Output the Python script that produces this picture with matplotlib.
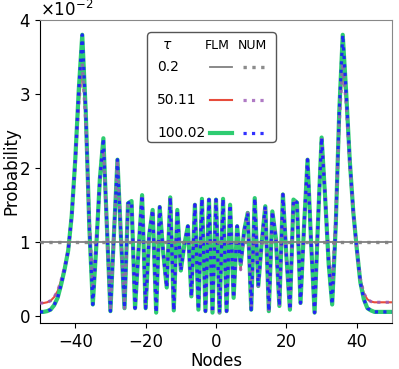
import numpy as np
import matplotlib
matplotlib.use("Agg")
import matplotlib.pyplot as plt
from matplotlib.lines import Line2D
from matplotlib.text import Text
from matplotlib.offsetbox import DrawingArea, AnchoredOffsetbox

# nodes of the walk
nodes = np.arange(-50, 51)

# tau = 0.2 : still uniform
p_02 = np.full(len(nodes), 0.0099)

# tau = 100.02 (values x 1e-2)
p_100 = np.array([
    0.05, 0.05, 0.06, 0.08, 0.14, 0.24, 0.42, 0.63, 0.88, 1.35,   # -50..-41
    2.10, 3.05, 3.80, 2.75, 1.20, 0.15, 0.95, 1.85, 2.40, 1.20,   # -40..-31
    0.06, 1.10, 2.11, 1.05, 0.10, 1.52, 1.55, 0.10, 0.90, 1.63,   # -30..-21
    0.10, 1.09, 1.43, 0.04, 1.47, 0.85, 0.38, 1.60, 0.07, 1.43,   # -20..-11
    0.61, 0.96, 1.21, 0.26, 1.50, 0.08, 1.58, 0.06, 1.57, 0.04,   # -10..-1
    1.57,                                                         # 0
    0.04, 1.58, 0.06, 1.50, 0.24, 1.21, 0.69, 1.15, 1.39, 0.08,   # 1..10
    1.59, 0.40, 1.00, 1.48, 0.06, 1.41, 1.05, 0.13, 1.64, 0.80,   # 11..20
    0.08, 1.57, 1.53, 0.17, 1.20, 2.11, 1.00, 0.04, 1.30, 2.41,   # 21..30
    1.60, 0.70, 0.15, 1.20, 2.75, 3.80, 3.00, 2.10, 1.40, 0.90,   # 31..40
    0.45, 0.22, 0.10, 0.07, 0.05, 0.05, 0.05, 0.05, 0.05, 0.05,   # 41..50
]) * 1e-2

# tau = 50.11
p_50 = np.array([
    0.17, 0.17, 0.18, 0.20, 0.25, 0.33, 0.48, 0.66, 0.88, 1.35,   # -50..-41
    2.05, 2.85, 3.42, 2.60, 1.30, 0.40, 1.00, 1.80, 2.25, 1.20,   # -40..-31
    0.06, 1.10, 2.11, 1.05, 0.10, 1.50, 1.52, 0.10, 0.90, 1.63,   # -30..-21
    0.10, 1.09, 1.43, 0.04, 1.47, 0.85, 0.38, 1.60, 0.07, 1.43,   # -20..-11
    0.61, 0.96, 1.21, 0.26, 1.50, 0.08, 1.58, 0.06, 1.57, 0.04,   # -10..-1
    1.57,                                                         # 0
    0.04, 1.58, 0.06, 1.50, 0.24, 1.21, 0.62, 1.15, 1.39, 0.08,   # 1..10
    1.59, 0.40, 1.00, 1.48, 0.06, 1.41, 1.05, 0.13, 1.64, 0.80,   # 11..20
    0.08, 1.57, 1.48, 0.17, 1.20, 2.11, 1.00, 0.04, 1.30, 2.41,   # 21..30
    1.65, 0.80, 0.42, 1.30, 2.60, 3.42, 2.85, 2.05, 1.40, 0.90,   # 31..40
    0.50, 0.30, 0.22, 0.19, 0.18, 0.18, 0.18, 0.18, 0.18, 0.18,   # 41..50
]) * 1e-2

taus = ["0.2", "50.11", "100.02"]
flm = [p_02, p_50, p_100]
num = [p_02, p_50, p_100]
flm_style = [dict(color="gray", lw=1.3, zorder=4),
             dict(color="#e74c3c", lw=1.5, zorder=2),
             dict(color="#2ecc71", lw=3.0, zorder=2)]
num_style = [dict(color="gray", lw=2.4, alpha=0.9, zorder=5),
             dict(color="#9b59b6", lw=2.3, alpha=0.8, zorder=3),
             dict(color="#1a1aff", lw=2.3, alpha=0.9, zorder=3)]

fig = plt.figure(figsize=(3.99, 3.69), dpi=100)
ax = fig.add_axes([0.1003, 0.1247, 0.8822, 0.8211])

for i in range(len(taus)):
    ax.plot(nodes, flm[i], ls="-", **flm_style[i])
    ax.plot(nodes, num[i], ls=":", **num_style[i])

ax.set_xlim(-50, 50)
ax.set_ylim(-0.001, 0.04)
ax.set_xticks([-40, -20, 0, 20, 40])
ax.set_yticks([0, 0.01, 0.02, 0.03, 0.04])
ax.ticklabel_format(style="sci", axis="y", scilimits=(0, 0), useMathText=True)
ax.tick_params(labelsize=12)
ax.yaxis.get_offset_text().set_fontsize(12)
ax.set_xlabel("Nodes", fontsize=12, labelpad=1)
ax.set_ylabel("Probability", fontsize=12)
ax.yaxis.set_label_coords(-0.055, 0.5)
for s in ["top", "right"]:
    ax.spines[s].set_color("#888888")

# table-like legend: tau | FLM | NUM
da = DrawingArea(93, 79, 0, 0)
col_x = [7.2, 41.8, 65.5]
row_y = [54.0, 30.2, 6.5]
da.add_artist(Text(11.0, 69.8, r"$\tau$", fontsize=10, ha="left", va="center"))
da.add_artist(Text(col_x[1], 69.3, "FLM", fontsize=9, ha="left", va="center"))
da.add_artist(Text(col_x[2], 69.3, "NUM", fontsize=9, ha="left", va="center"))
for i in range(len(taus)):
    da.add_artist(Text(col_x[0], row_y[i], taus[i], fontsize=10, ha="left", va="center"))
    st = dict(flm_style[i]); st.pop("zorder")
    da.add_artist(Line2D([45.4, 61.2], [row_y[i], row_y[i]], ls="-", **st))
    st = dict(num_style[i]); st.pop("zorder")
    da.add_artist(Line2D([69.1, 85.0], [row_y[i], row_y[i]], ls=":", **st))
box = AnchoredOffsetbox(loc="upper left", child=da, pad=0, borderpad=0,
                        frameon=True, bbox_to_anchor=(0.304, 0.960),
                        bbox_transform=ax.transAxes)
box.patch.set_boxstyle("round,pad=0,rounding_size=0.3")
box.patch.set_edgecolor("#555555")
box.patch.set_linewidth(1.0)
box.zorder = 10
ax.add_artist(box)

fig.savefig("out.png", dpi=100)
